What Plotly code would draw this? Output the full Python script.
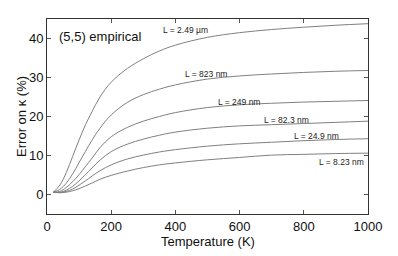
import plotly.graph_objects as go

temperature = [20, 40, 60, 80, 100, 120, 140, 165, 200, 250, 300, 350, 400, 500, 600, 700, 800, 900, 1000]

err_2490nm = [0.6, 2.4, 5.6, 9.8, 14.0, 17.9, 21.2, 25.0, 28.8, 32.3, 34.8, 36.8, 38.3, 40.3, 41.5, 42.3, 42.9, 43.4, 43.8]
err_823nm = [0.6, 1.3, 2.9, 5.3, 8.2, 11.1, 13.9, 17.0, 20.4, 23.6, 25.6, 27.0, 28.1, 29.6, 30.4, 30.9, 31.3, 31.6, 31.8]
err_249nm = [0.6, 0.8, 1.8, 3.3, 5.1, 7.2, 9.3, 12.0, 14.8, 17.2, 18.8, 20.0, 21.0, 22.3, 23.0, 23.4, 23.7, 23.9, 24.1]
err_82nm = [0.6, 0.55, 1.1, 2.1, 3.5, 5.1, 6.8, 8.8, 11.0, 12.9, 14.2, 15.2, 16.0, 17.0, 17.6, 17.9, 18.2, 18.5, 18.8]
err_24nm = [0.6, 0.5, 0.8, 1.4, 2.4, 3.5, 4.7, 6.1, 7.6, 9.1, 10.1, 10.9, 11.5, 12.4, 13.0, 13.4, 13.8, 14.1, 14.3]
err_8nm = [0.6, 0.45, 0.6, 0.95, 1.5, 2.2, 2.95, 3.9, 4.9, 6.0, 6.9, 7.6, 8.1, 8.9, 9.5, 10.1, 10.3, 10.5, 10.6]

series = [err_2490nm, err_823nm, err_249nm, err_82nm, err_24nm, err_8nm]
labels = ["L = 2.49 µm", "L = 823 nm", "L = 249 nm", "L = 82.3 nm", "L = 24.9 nm", "L = 8.23 nm"]
label_x = [433, 495, 597, 747, 838, 916]
label_y = [42.3, 31.0, 23.8, 19.2, 15.0, 8.3]

FONT = "Liberation Sans, Arial, sans-serif"

fig = go.Figure()
for ys, name in zip(series, labels):
    fig.add_trace(go.Scatter(x=temperature, y=ys, mode="lines", name=name,
                             line=dict(color="#808080", width=1, shape="spline", smoothing=1.0),
                             showlegend=False))

for t, x, y in zip(labels, label_x, label_y):
    fig.add_annotation(x=x, y=y, text=t, showarrow=False,
                       font=dict(family=FONT, size=8.5, color="#222"))

fig.add_annotation(x=0.03, y=40.5, xref="paper", yref="y", text="(5,5) empirical",
                   showarrow=False, xanchor="left",
                   font=dict(family=FONT, size=13, color="#111"))

# axis titles placed as annotations for exact positioning
fig.add_annotation(x=0.5, y=-0.142, xref="paper", yref="paper", text="Temperature (K)",
                   showarrow=False, xanchor="center", yanchor="middle", borderpad=0,
                   font=dict(family=FONT, size=13, color="#111"))
fig.add_annotation(x=-0.078, y=0.503, xref="paper", yref="paper", text="Error on κ (%)",
                   showarrow=False, xanchor="center", yanchor="middle", textangle=-90,
                   font=dict(family=FONT, size=13, color="#111"))

axis_common = dict(showgrid=False, zeroline=False, showline=True, linecolor="#333",
                   linewidth=1, mirror="allticks", ticks="inside", ticklen=4,
                   tickcolor="#555", automargin=False,
                   tickfont=dict(family=FONT, size=13, color="#111"))

fig.update_xaxes(range=[0, 1000], tickvals=[0, 200, 400, 600, 800, 1000], **axis_common)
fig.update_yaxes(range=[-5, 45], tickvals=[0, 10, 20, 30, 40], **axis_common)

fig.update_layout(width=398, height=256, margin=dict(l=47, r=30, t=19, b=42),
                  paper_bgcolor="white", plot_bgcolor="white")

fig.write_html("out.html", config={"displayModeBar": False},
               post_script="document.body.style.margin='0';")
